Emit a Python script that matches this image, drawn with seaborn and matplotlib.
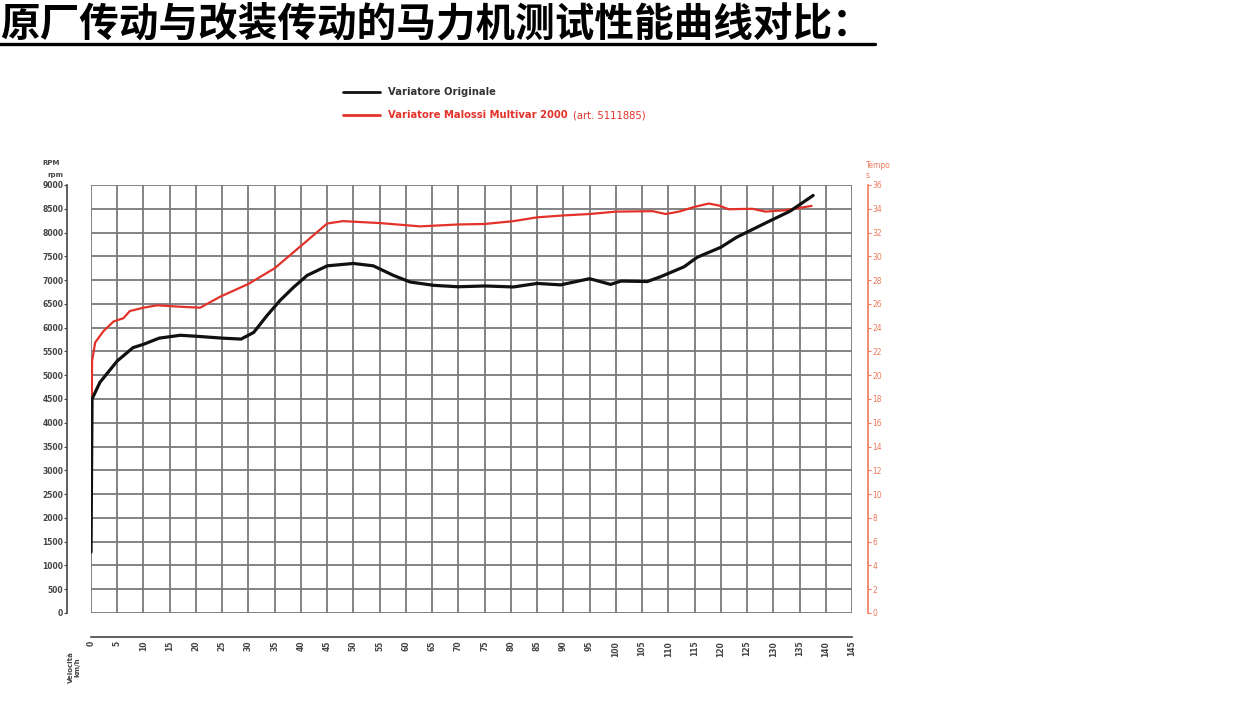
import matplotlib
matplotlib.use('Agg')
import matplotlib.pyplot as plt
from matplotlib.lines import Line2D
import seaborn as sns
import pandas as pd

# speed (km/h) and engine rpm read from the dyno sheet
speed_orig = [0, 0.2, 1.7, 5, 8, 10, 13, 17, 20, 25, 28.6, 31, 33.5, 36, 38.6, 41.2, 45, 50,
              53.8, 57.6, 60.8, 65.3, 70, 75, 80.5, 85, 89.5, 95, 99, 101, 106, 108.5, 113,
              115.5, 120, 123, 128.7, 133.2, 137.6]
rpm_orig = [1280, 4500, 4850, 5300, 5580, 5650, 5780, 5840, 5820, 5780, 5760, 5900, 6250, 6570,
            6850, 7100, 7300, 7350, 7300, 7100, 6960, 6890, 6860, 6877, 6856, 6930, 6900, 7030,
            6910, 6980, 6970, 7070, 7280, 7480, 7690, 7900, 8210, 8450, 8780]

speed_malossi = [0, 0.2, 0.8, 2.4, 4.3, 6.2, 7.4, 10, 12.6, 17, 20.8, 24.6, 30, 35, 39.8, 45,
                 48, 55, 62.7, 70, 75, 80.5, 85, 90, 95, 100, 107, 109.5, 112, 115, 117.7,
                 119.6, 121.5, 126, 128.5, 132.3, 137.3]
rpm_malossi = [1550, 5300, 5690, 5930, 6130, 6200, 6350, 6420, 6470, 6440, 6420, 6650, 6920,
               7250, 7700, 8190, 8240, 8200, 8130, 8170, 8180, 8240, 8320, 8360, 8390, 8440,
               8450, 8390, 8440, 8540, 8610, 8570, 8490, 8500, 8440, 8470, 8560]

x_ticks = list(range(0, 150, 5))
rpm_ticks = list(range(0, 9500, 500))
time_ticks = list(range(0, 38, 2))

title = '原厂传动与改装传动的马力机测试性能曲线对比：'
label_orig = 'Variatore Originale'
label_malossi = 'Variatore Malossi Multivar 2000'
label_art = '(art. 5111885)'

RED = '#e2322a'
AXIS_RED = '#ee7a5c'
GRID = '#7a7a7a'

sns.set_style('white')
plt.rcParams['font.family'] = ['DejaVu Sans', 'Noto Sans CJK SC']

W, H = 1242, 717
fig = plt.figure(figsize=(W / 100, H / 100), dpi=100)
ax = fig.add_axes([91 / W, 1 - 613 / H, 761 / W, 428 / H])

df_o = pd.DataFrame({'speed': speed_orig, 'rpm': rpm_orig})
df_m = pd.DataFrame({'speed': speed_malossi, 'rpm': rpm_malossi})
sns.lineplot(data=df_o, x='speed', y='rpm', ax=ax, color='#111111', lw=2.3,
             estimator=None, sort=False, zorder=4)
sns.lineplot(data=df_m, x='speed', y='rpm', ax=ax, color=RED, lw=1.6,
             estimator=None, sort=False, zorder=3)

ax.set_xlim(0, 145)
ax.set_ylim(0, 9000)
ax.set_xticks(x_ticks)
ax.set_yticks(rpm_ticks)
ax.set_xlabel('')
ax.set_ylabel('')
ax.grid(True, color=GRID, lw=1.3)
for gl in ax.get_xgridlines() + ax.get_ygridlines():
    gl.set_clip_on(False)

for s in ['top', 'right']:
    ax.spines[s].set_visible(False)
ax.spines['left'].set_position(('outward', 17))
ax.spines['bottom'].set_position(('outward', 17))
ax.spines['left'].set_color('#444444')
ax.spines['bottom'].set_color('#444444')
ax.spines['left'].set_linewidth(1.2)
ax.spines['bottom'].set_linewidth(1.2)
ax.tick_params(axis='both', length=2, width=0.8, color='#444444', labelsize=5.5,
               labelcolor='#444444', pad=1)
ax.tick_params(axis='x', labelrotation=90)
for lab in ax.get_xticklabels() + ax.get_yticklabels():
    lab.set_fontweight('bold')

# right axis: tempo (s)
ax2 = ax.twinx()
ax2.set_ylim(0, 36)
ax2.set_yticks(time_ticks)
for s in ['top', 'left', 'bottom']:
    ax2.spines[s].set_visible(False)
ax2.spines['right'].set_position(('outward', 11.5))
ax2.spines['right'].set_color(AXIS_RED)
ax2.spines['right'].set_linewidth(1.2)
ax2.tick_params(axis='y', length=2, width=0.8, color=AXIS_RED, labelsize=5.5,
                labelcolor=AXIS_RED, pad=1)
ax2.grid(False)

# axis captions
fig.text(60 / W, 1 - 163 / H, 'RPM', fontsize=5, fontweight='bold', color='#444444',
         ha='right', va='center')
fig.text(63 / W, 1 - 175 / H, 'rpm', fontsize=5, fontweight='bold', color='#444444',
         ha='right', va='center')
fig.text(866 / W, 1 - 165 / H, 'Tempo', fontsize=5.5, color=AXIS_RED, ha='left', va='center')
fig.text(866 / W, 1 - 175 / H, 's', fontsize=5.5, color=AXIS_RED, ha='left', va='center')
fig.text(74 / W, 1 - 667 / H, 'Velocità\nkm/h', fontsize=5, fontweight='bold',
         color='#444444', rotation=90, ha='center', va='center', linespacing=1.1)

# legend
fig.add_artist(Line2D([343 / W, 380 / W], [1 - 92 / H, 1 - 92 / H], color='#111111', lw=2))
fig.add_artist(Line2D([343 / W, 380 / W], [1 - 115 / H, 1 - 115 / H], color=RED, lw=2))
fig.text(388 / W, 1 - 92 / H, label_orig, fontsize=7.2, fontweight='bold', color='#333333',
         va='center', family=['Liberation Sans Narrow', 'DejaVu Sans'])
fig.text(388 / W, 1 - 115 / H, label_malossi, fontsize=7.2, fontweight='bold', color=RED,
         va='center', family=['Liberation Sans Narrow', 'DejaVu Sans'])
fig.text(573 / W, 1 - 115 / H, label_art, fontsize=7.2, color=RED,
         va='center', family=['Liberation Sans Narrow', 'DejaVu Sans'])

# title with underline
fig.text(0, 1 - 24 / H, title, fontsize=28.5, fontweight='bold', style='italic',
         color='black', ha='left', va='center',
         family=['Noto Sans CJK SC', 'DejaVu Sans'])
fig.add_artist(Line2D([0, 875 / W], [1 - 44 / H, 1 - 44 / H], color='black', lw=2.4))

fig.savefig('out.png', dpi=100, facecolor='white')
